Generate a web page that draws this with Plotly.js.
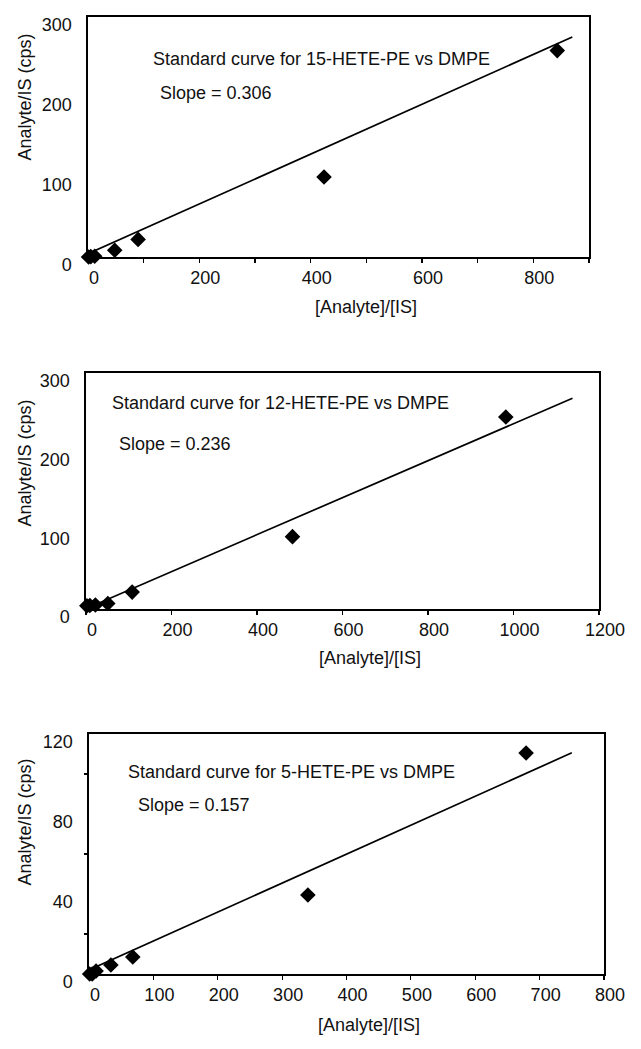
<!DOCTYPE html>
<html>
<head>
<meta charset="utf-8">
<script src="https://cdn.plot.ly/plotly-3.0.1.min.js"></script>
<style>html,body{margin:0;padding:0;background:#fff;}#chart{width:641px;height:1049px;}</style>
</head>
<body>
<div id="chart"></div>
<script>
// ---- data ----
const pe15_x = [843, 424, 90, 48, 12, 5, 1];
const pe15_y = [258, 100, 22, 8.5, 1, 0.5, 0];
const fit15_x = [0, 870];
const fit15_y = [4, 275];

const pe12_x = [982, 483, 108, 51, 22, 9, 2];
const pe12_y = [244, 92, 21.5, 7, 5, 4.5, 4];
const fit12_x = [0, 1138];
const fit12_y = [0.5, 268];

const pe5_x = [679, 340, 68, 34, 11, 5, 1];
const pe5_y = [110.5, 39.5, 8.5, 4.5, 1.5, 0, 0];
const fit5_x = [0, 750];
const fit5_y = [2, 110.6];

const titles = ["Standard curve for 15-HETE-PE vs DMPE",
                "Standard curve for 12-HETE-PE vs DMPE",
                "Standard curve for 5-HETE-PE vs DMPE"];
const slopes = ["Slope = 0.306", "Slope = 0.236", "Slope = 0.157"];
const xTitle = "[Analyte]/[IS]";
const yTitle = "Analyte/IS (cps)";

// ---- layout geometry (pixels) ----
const W = 641, H = 1049;
const boxes = [
  {l: 88, r: 589, t: 17,  b: 257, xr: [0, 900],  xd: 200, xm: 100, yr: [0, 300], yd: 100, ym: null},
  {l: 86, r: 599, t: 373, b: 609, xr: [0, 1200], xd: 200, xm: null, yr: [0, 300], yd: 100, ym: null},
  {l: 89, r: 604, t: 734, b: 974, xr: [0, 800],  xd: 100, xm: null, yr: [0, 120], yd: 40, ym: 20}
];
const txtPos = [
  {tx: 151, ty: 59, sx: 158, sy: 93, xtx: 366, xty: 307, ytx: 24.5, yty: 97},
  {tx: 110, ty: 403, sx: 117, sy: 444, xtx: 370, xty: 658, ytx: 24.5, yty: 463},
  {tx: 126, ty: 772, sx: 136, sy: 805, xtx: 369, xty: 1025, ytx: 24.5, yty: 822}
];
const FONT = "Liberation Sans, Arial, Helvetica, sans-serif";
const FS = 18;
const TXT = "#111";

const series = [[pe15_x, pe15_y, fit15_x, fit15_y], [pe12_x, pe12_y, fit12_x, fit12_y], [pe5_x, pe5_y, fit5_x, fit5_y]];

const traces = [];
const layout = {
  width: W, height: H,
  margin: {l: 0, r: 0, t: 0, b: 0, pad: 0},
  paper_bgcolor: "#fff", plot_bgcolor: "#fff",
  showlegend: false,
  font: {family: FONT, size: FS, color: TXT},
  annotations: []
};

series.forEach((s, i) => {
  const n = i === 0 ? "" : String(i + 1);
  const xa = "x" + n, ya = "y" + n;
  traces.push({x: s[2], y: s[3], xaxis: xa, yaxis: ya, type: "scatter", mode: "lines",
               line: {color: "#000", width: 1.7}, hoverinfo: "skip", cliponaxis: false});
  traces.push({x: s[0], y: s[1], xaxis: xa, yaxis: ya, type: "scatter", mode: "markers",
               marker: {symbol: "diamond", size: 12, color: "#000"}, cliponaxis: false});
  const b = boxes[i];
  const xaxis = {
    domain: [b.l / W, b.r / W], anchor: ya, range: b.xr, dtick: b.xd, tick0: 0,
    showgrid: false, zeroline: false, showline: true, mirror: true, linecolor: "#000", linewidth: 1.7,
    ticks: "outside", ticklen: 4, tickwidth: 1.2, tickcolor: "#000",
    tickfont: {family: FONT, size: FS, color: TXT}, ticklabelshift: 6, ticklabelstandoff: 0,
    ticklabeloverflow: "allow", fixedrange: true
  };
  if (b.xm) xaxis.minor = {dtick: b.xm, tick0: 0, ticks: "outside", ticklen: 4, tickwidth: 1.2, tickcolor: "#000", showgrid: false};
  const yaxis = {
    domain: [1 - b.b / H, 1 - b.t / H], anchor: xa, range: b.yr, dtick: b.yd, tick0: 0,
    showgrid: false, zeroline: false, showline: true, mirror: true, linecolor: "#000", linewidth: 1.7,
    ticks: "", tickfont: {family: FONT, size: FS, color: TXT}, ticklabelshift: 8, ticklabelstandoff: 11,
    ticklabeloverflow: "allow", fixedrange: true
  };
  if (b.ym) yaxis.minor = {dtick: b.ym, tick0: 0, ticks: "outside", ticklen: 3, tickwidth: 1.2, tickcolor: "#000", showgrid: false};
  layout["xaxis" + n] = xaxis;
  layout["yaxis" + n] = yaxis;

  const p = txtPos[i];
  const ann = (text, x, y, xanchor, angle) => ({
    text: text, xref: "paper", yref: "paper", x: x / W, y: 1 - y / H,
    xanchor: xanchor, yanchor: "middle", showarrow: false, textangle: angle || 0,
    font: {family: FONT, size: FS, color: TXT}
  });
  layout.annotations.push(ann(titles[i], p.tx, p.ty, "left"));
  layout.annotations.push(ann(slopes[i], p.sx, p.sy, "left"));
  layout.annotations.push(ann(xTitle, p.xtx, p.xty, "center"));
  layout.annotations.push(ann(yTitle, p.ytx, p.yty, "center", -90));
});

Plotly.newPlot("chart", traces, layout, {displayModeBar: false, staticPlot: true});
</script>
</body>
</html>
